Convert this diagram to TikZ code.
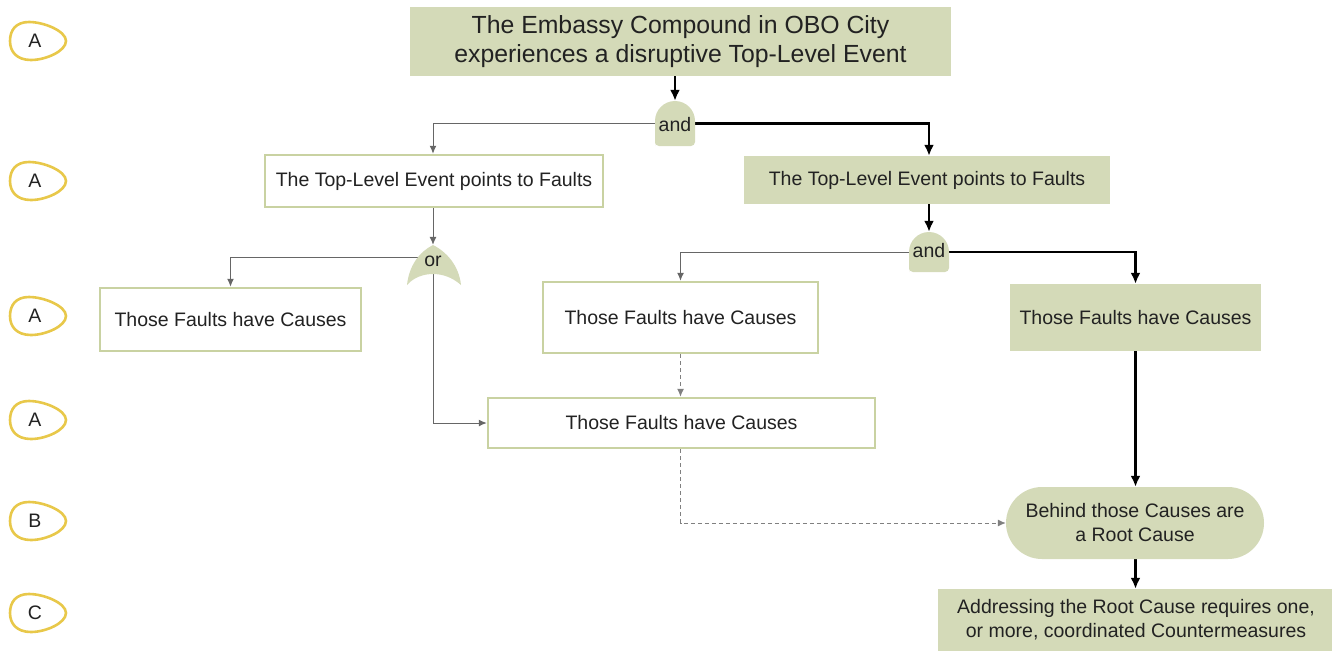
\documentclass[tikz,border=0pt]{standalone}
\usepackage{fontspec}
\setmainfont{Liberation Sans}
\usetikzlibrary{arrows.meta}
\definecolor{gfill}{HTML}{D4DAB8}
\definecolor{gline}{HTML}{C9D2A2}
\definecolor{egg}{HTML}{E8C84A}
\definecolor{txt}{HTML}{222222}
\pgfdeclarelayer{background}
\pgfsetlayers{background,main}
\tikzset{
  every node/.style={font=\fontsize{19.5}{24}\selectfont, text=txt, align=center, inner sep=0pt},
  filledbox/.style={fill=gfill, draw=none},
  openbox/.style={fill=white, draw=gline, line width=2.5pt},
  thinc/.style={draw=black!60, line width=1pt, -{Latex[length=8pt,width=7pt]}},
  thickc/.style={draw=black, line width=2.4pt, -{Latex[length=11pt,width=10pt]}},
  dashc/.style={draw=black!50, line width=1pt, dash pattern=on 4pt off 3pt, -{Latex[length=8pt,width=7pt]}},
  eggline/.style={draw=egg, line width=2.6pt},
  gatetxt/.style={minimum width=40pt},
}
\newcommand{\eggshape}[3]{%
  \draw[eggline] (#1+28,#2) .. controls (#1+28,#2-10) and (#1+6,#2-19) .. (#1-9,#2-19)
    .. controls (#1-22,#2-19) and (#1-28,#2-11) .. (#1-28,#2)
    .. controls (#1-28,#2+11) and (#1-21,#2+19) .. (#1-7,#2+19)
    .. controls (#1+8,#2+19) and (#1+28,#2+10) .. cycle;
  \node (egg#3) at (#1-3,#2) {};
}
\begin{document}
\begin{tikzpicture}[x=1pt,y=-1pt]
\useasboundingbox (0,0) rectangle (1332,651);

% eggs
\eggshape{38}{41}{1}\node at (egg1) {A};
\eggshape{38}{181}{2}\node at (egg2) {A};
\eggshape{38}{316}{3}\node at (egg3) {A};
\eggshape{38}{420}{4}\node at (egg4) {A};
\eggshape{38}{521}{5}\node at (egg5) {B};
\eggshape{38}{613}{6}\node at (egg6) {C};

% boxes
\node[filledbox, minimum width=541pt, minimum height=69pt, font=\fontsize{24.8}{29}\selectfont] (top) at (680.5,41.5)
  {The Embassy Compound in OBO City\\experiences a disruptive Top-Level Event};
\node[openbox, minimum width=338pt, minimum height=52pt] (b2) at (434,181) {The Top-Level Event points to Faults};
\node[filledbox, minimum width=366pt, minimum height=48pt] (b3) at (927,180) {The Top-Level Event points to Faults};
\node[openbox, minimum width=261pt, minimum height=63pt] (b4) at (230.5,319.5) {Those Faults have Causes};
\node[openbox, minimum width=275pt, minimum height=71pt] (b5) at (680.5,317.5) {Those Faults have Causes};
\node[filledbox, minimum width=251pt, minimum height=67pt] (b6) at (1135.5,317.5) {Those Faults have Causes};
\node[openbox, minimum width=387pt, minimum height=50pt] (b7) at (681.5,423) {Those Faults have Causes};
\node[filledbox, rounded corners=36pt, minimum width=258pt, minimum height=72pt] (root) at (1135,523)
  {Behind those Causes are\\a Root Cause};
\node[filledbox, minimum width=396pt, minimum height=62pt] (b8) at (1136,620)
  {Addressing the Root Cause requires one,\\or more, coordinated Countermeasures};

% and gate 1
\fill[gfill] (655,146) -- (655,121) arc[start angle=180, end angle=360, radius=20] -- (695,142)
  arc[start angle=0, end angle=90, radius=4] -- (659,146) arc[start angle=90, end angle=180, radius=4] -- cycle;
\node[gatetxt, minimum height=45pt] (and1) at (675,123.5) {};
\node at (675,125) {and};

% or gate
\fill[gfill] (433,245) .. controls (447,252) and (459,266) .. (461,285)
  .. controls (452,277) and (442,274) .. (433,274)
  .. controls (424,274) and (414,277) .. (407,285)
  .. controls (409,266) and (419,252) .. (433,245) -- cycle;
\node[minimum width=50pt, minimum height=40pt] (or1) at (433,265) {};
\node at (433,261) {or};

% and gate 2
\fill[gfill] (909,272) -- (909,252) arc[start angle=180, end angle=360, radius=20] -- (949,268)
  arc[start angle=0, end angle=90, radius=4] -- (913,272) arc[start angle=90, end angle=180, radius=4] -- cycle;
\node[gatetxt, minimum height=40pt] (and2) at (929,252) {};
\node at (929,251) {and};

% connectors
\begin{pgfonlayer}{background}
\draw[thickc] (and1.north |- top.south) -- (and1.north);
\draw[thinc] (and1.center) -| (b2.north -| or1.north);
\draw[thickc] (and1.center) -| (b3.north -| and2.north);
\draw[thinc] (or1.north |- b2.south) -- (or1.north);
\draw[thinc] ([yshift=8pt]or1.center) -| (b4.north);
\draw[thinc] (or1.center) |- (b7.west);
\draw[thickc] (and2.north |- b3.south) -- (and2.north);
\draw[thinc] (and2.center) -| (b5.north);
\draw[thickc] (and2.center) -| (b6.north);
\draw[dashc] (b5.south) -- (b7.north -| b5.south);
\draw[dashc] (b7.south -| b5.south) |- (root.west);
\draw[thickc] (b6.south) -- (b6.south |- root.north);
\draw[thickc] (b6.south |- root.south) -- (b8.north -| b6.south);
\end{pgfonlayer}
\end{tikzpicture}
\end{document}
